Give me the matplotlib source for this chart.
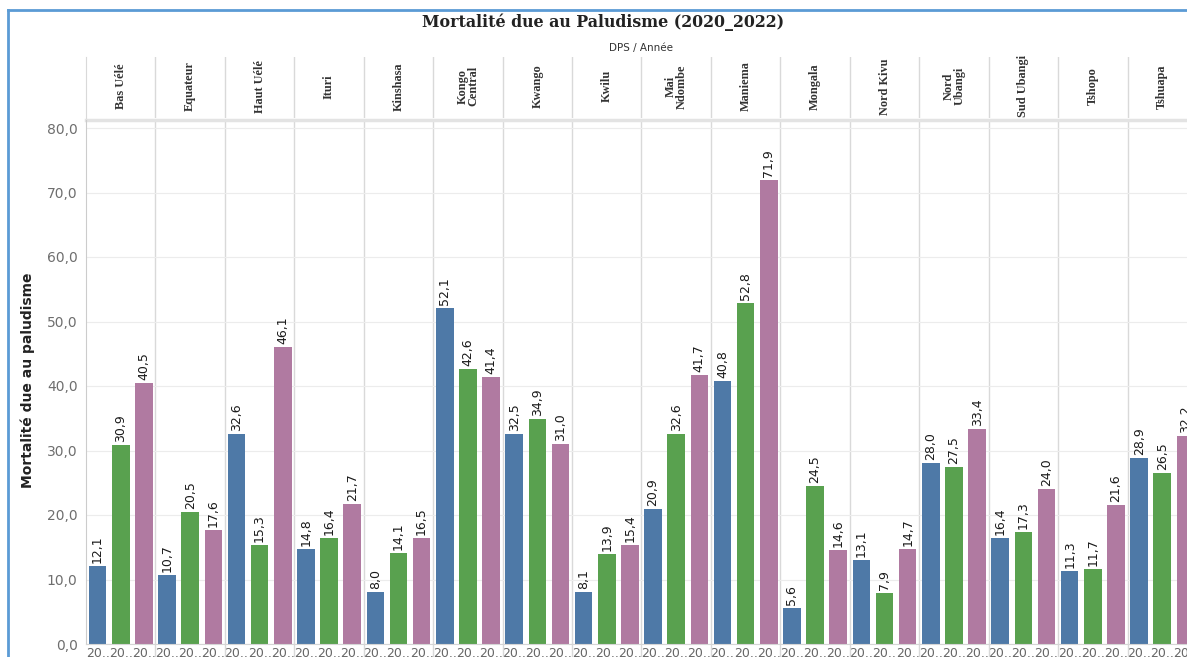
import numpy as np
import matplotlib.pyplot as plt
from matplotlib.lines import Line2D

dps = ['Bas Uélé', 'Equateur', 'Haut Uélé', 'Ituri', 'Kinshasa', 'Kongo\nCentral',
       'Kwango', 'Kwilu', 'Mai\nNdombe', 'Maniema', 'Mongala', 'Nord Kivu',
       'Nord\nUbangi', 'Sud Ubangi', 'Tshopo', 'Tshuapa']
annees = ['2020', '2021', '2022']
v2020 = [12.1, 10.7, 32.6, 14.8, 8.0, 52.1, 32.5, 8.1, 20.9, 40.8, 5.6, 13.1, 28.0, 16.4, 11.3, 28.9]
v2021 = [30.9, 20.5, 15.3, 16.4, 14.1, 42.6, 34.9, 13.9, 32.6, 52.8, 24.5, 7.9, 27.5, 17.3, 11.7, 26.5]
v2022 = [40.5, 17.6, 46.1, 21.7, 16.5, 41.4, 31.0, 15.4, 41.7, 71.9, 14.6, 14.7, 33.4, 24.0, 21.6, 32.2]
couleurs = ['#4e79a7', '#59a14f', '#b07aa1']

W, H = 1187, 657
fig = plt.figure(figsize=(W / 100, H / 100), dpi=100)


def fx(px):
    return px / W


def fy(py):
    return 1 - py / H


x0, x1 = 86, 1197
ax = fig.add_axes([fx(x0), fy(644), fx(x1 - x0), (644 - 120) / H])
hd = fig.add_axes([fx(x0), fy(118), fx(x1 - x0), (118 - 57) / H])

n = len(dps)
base = np.arange(n) * 3
series = [v2020, v2021, v2022]
xs_all = []
for j, vals in enumerate(series):
    xs = base + j
    xs_all.extend(xs)
    ax.bar(xs, vals, width=0.76, color=couleurs[j], zorder=2)
    for x, v in zip(xs, vals):
        ax.annotate(f'{v:.1f}'.replace('.', ','), (x, v), xytext=(0, 3),
                    textcoords='offset pixels', rotation=90, ha='center',
                    va='bottom', fontsize=9, color='#1a1a1a', annotation_clip=False)

ax.set_xlim(-0.5, n * 3 - 0.5)
ax.set_ylim(0, (644 - 120) / 6.45)
ax.set_yticks(range(0, 81, 10))
ax.set_yticklabels([f'{t},0' for t in range(0, 81, 10)])
ax.tick_params(axis='y', length=0, labelsize=10, labelcolor='#6e6e6e', pad=6)
xs_all = sorted(xs_all)
ax.set_xticks(xs_all)
ax.set_xticklabels(['20..'] * len(xs_all))
ax.tick_params(axis='x', length=0, labelsize=9, labelcolor='#666', pad=2)
ax.grid(axis='y', color='#ececec', lw=0.8, zorder=0)
for s in ['top', 'right']:
    ax.spines[s].set_visible(False)
ax.spines['left'].set_color('#cccccc')
ax.spines['bottom'].set_color('#d5d5d5')

for k in range(1, n):
    ax.axvline(3 * k - 0.5, color='#d9d9d9', lw=1, zorder=1)
    ax.plot([3 * k - 0.5] * 2, [-0.04, 0], transform=ax.get_xaxis_transform(),
            color='#d9d9d9', lw=1, clip_on=False)
ax.plot([-0.5, n * 3 - 0.5], [1, 1], transform=ax.get_xaxis_transform(),
        color='#e3e3e3', lw=2.5, clip_on=False)

# en-tête des DPS
hd.set_xlim(-0.5, n * 3 - 0.5)
hd.set_ylim(0, 1)
hd.set_xticks([])
hd.set_yticks([])
for s in ['top', 'right', 'bottom']:
    hd.spines[s].set_visible(False)
hd.spines['left'].set_color('#d9d9d9')
for k in range(1, n):
    hd.axvline(3 * k - 0.5, color='#d9d9d9', lw=1)
for k, nom in enumerate(dps):
    hd.text(3 * k + 1, 0.52, nom, rotation=90, ha='center', va='center',
            family='Liberation Serif', weight='bold', fontsize=8.8, color='#333',
            linespacing=0.85)

fig.text(fx(603), fy(22), 'Mortalité due au Paludisme (2020_2022)', ha='center',
         va='center', family='DejaVu Serif', weight='bold', fontsize=11.4, color='#222')
fig.text(fx(641), fy(48), 'DPS / Année', ha='center', va='center', fontsize=7.5,
         color='#333')
fig.text(fx(28), fy(380), 'Mortalité due au paludisme', rotation=90, ha='center',
         va='center', weight='bold', fontsize=10, color='#222')

# cadre bleu
fig.add_artist(Line2D([fx(8), fx(8)], [fy(10), 0], color='#5b9bd5', lw=2))
fig.add_artist(Line2D([fx(8), 1], [fy(10), fy(10)], color='#5b9bd5', lw=2))

fig.savefig('out.png', dpi=100)
